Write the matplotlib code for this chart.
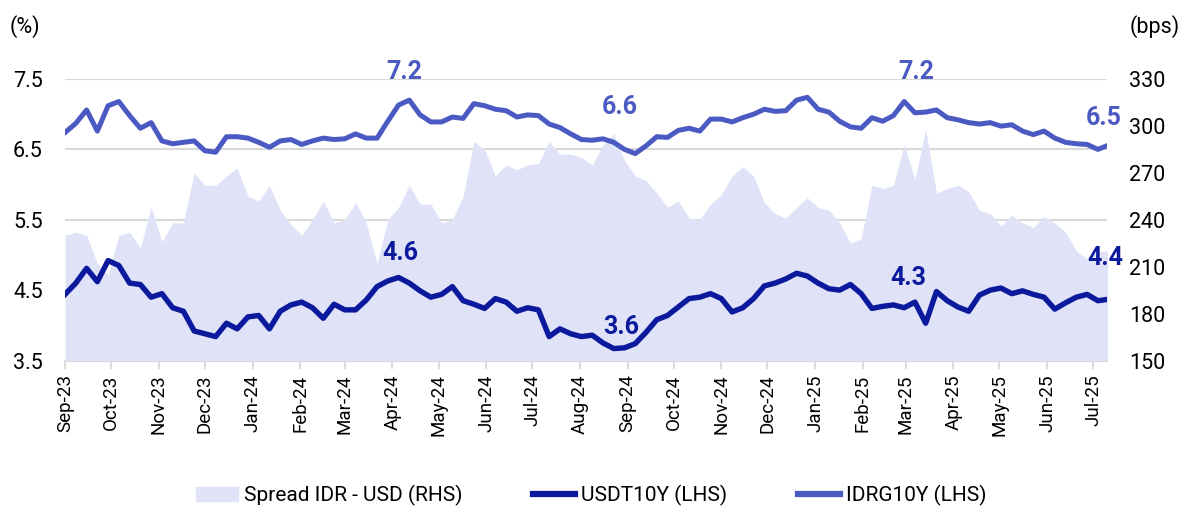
import pandas as pd
import matplotlib
matplotlib.use("Agg")
import matplotlib.pyplot as plt
import matplotlib.dates as mdates
from matplotlib.patches import Patch
from matplotlib.lines import Line2D

plt.rcParams['font.family'] = ['Roboto', 'DejaVu Sans']

# weekly observations, Sep-23 .. Jul-25
dates = pd.date_range('2023-09-01', periods=98, freq='7D')

idrg10y = [6.74, 6.87, 7.06, 6.76, 7.12, 7.18, 6.98, 6.80, 6.88, 6.62,
           6.58, 6.60, 6.62, 6.48, 6.46, 6.68, 6.68, 6.66, 6.60, 6.53,
           6.62, 6.64, 6.57, 6.62, 6.66, 6.64, 6.65, 6.72, 6.66, 6.66,
           6.90, 7.13, 7.20, 6.99, 6.89, 6.89, 6.96, 6.94, 7.15, 7.12,
           7.07, 7.05, 6.96, 6.99, 6.98, 6.86, 6.81, 6.72, 6.64, 6.63,
           6.65, 6.60, 6.50, 6.44, 6.55, 6.68, 6.67, 6.77, 6.80, 6.76,
           6.93, 6.93, 6.89, 6.95, 7.00, 7.07, 7.04, 7.05, 7.20, 7.24,
           7.07, 7.03, 6.90, 6.82, 6.80, 6.95, 6.90, 6.98, 7.18, 7.02,
           7.03, 7.06, 6.95, 6.92, 6.88, 6.86, 6.88, 6.83, 6.85, 6.76,
           6.71, 6.76, 6.66, 6.60, 6.58, 6.57, 6.50, 6.56]

usdt10y = [4.44, 4.60, 4.81, 4.62, 4.92, 4.85, 4.60, 4.58, 4.40, 4.45,
           4.25, 4.20, 3.92, 3.88, 3.84, 4.03, 3.95, 4.12, 4.14, 3.95,
           4.20, 4.29, 4.33, 4.25, 4.10, 4.30, 4.22, 4.22, 4.36, 4.55,
           4.63, 4.68, 4.60, 4.49, 4.40, 4.44, 4.55, 4.35, 4.30, 4.24,
           4.38, 4.33, 4.20, 4.25, 4.22, 3.84, 3.95, 3.88, 3.84, 3.86,
           3.75, 3.67, 3.68, 3.74, 3.90, 4.08, 4.14, 4.26, 4.38, 4.40,
           4.45, 4.38, 4.19, 4.25, 4.38, 4.56, 4.60, 4.66, 4.74, 4.70,
           4.60, 4.52, 4.50, 4.58, 4.45, 4.24, 4.27, 4.29, 4.25, 4.33,
           4.03, 4.48, 4.35, 4.26, 4.20, 4.43, 4.50, 4.53, 4.45, 4.49,
           4.44, 4.40, 4.23, 4.32, 4.40, 4.44, 4.35, 4.37]

spread_bps = [230, 232, 230, 212, 205, 230, 232, 222, 248, 226,
              238, 238, 270, 262, 262, 268, 273, 255, 252, 262,
              246, 237, 230, 240, 252, 238, 240, 251, 238, 212,
              240, 248, 262, 250, 250, 238, 240, 255, 290, 285,
              268, 275, 272, 275, 276, 290, 282, 282, 280, 275,
              288, 295, 278, 268, 265, 257, 248, 252, 241, 240,
              250, 256, 268, 274, 268, 251, 244, 241, 248, 254,
              248, 246, 238, 225, 228, 262, 260, 262, 288, 266,
              298, 257, 260, 262, 258, 246, 244, 236, 243, 238,
              235, 242, 238, 232, 220, 215, 220, 220]

left_ticks = [3.5, 4.5, 5.5, 6.5, 7.5]
right_ticks = [150, 180, 210, 240, 270, 300, 330]

# (text, date, y on LHS, colour key)
labels = [('7.2', '2024-04-09', 7.60, 'idr'), ('6.6', '2024-08-27', 7.10, 'idr'),
          ('7.2', '2025-03-08', 7.60, 'idr'), ('6.5', '2025-07-08', 6.94, 'idr'),
          ('4.6', '2024-04-06', 5.03, 'us'), ('3.6', '2024-08-28', 3.98, 'us'),
          ('4.3', '2025-03-03', 4.67, 'us'), ('4.4', '2025-07-09', 4.95, 'us')]

c_idr = '#4B5AC2'
c_us = '#0B1A9C'
c_fill = '#E0E3F8'

fig = plt.figure(figsize=(11.83, 5.09), dpi=100)
ax = fig.add_axes([0.055, 0.2917, 0.8808, 0.5531])
ax2 = ax.twinx()
ax3 = ax.twinx()

# grid / left axis
ax.set_ylim(3.5, 7.5)
ax.set_yticks(left_ticks)
ax.set_yticklabels([f'{v:.1f}' for v in left_ticks])
ax.grid(axis='y', color='#D9D9D9', lw=1.5)
ax.set_axisbelow(True)
ax.tick_params(axis='y', length=0, pad=16, labelsize=15.5)

# spread area (RHS)
ax2.fill_between(dates, spread_bps, 150, color=c_fill, lw=0)
ax2.set_ylim(150, 330)
ax2.set_yticks(right_ticks)
ax2.tick_params(axis='y', length=0, pad=16, labelsize=15.5)

# yields (LHS scale)
ax3.plot(dates, idrg10y, color=c_idr, lw=3.6, solid_joinstyle='round')
ax3.plot(dates, usdt10y, color=c_us, lw=3.9, solid_joinstyle='round')
ax3.set_ylim(3.5, 7.5)
ax3.set_yticks([])

for t, d, y, k in labels:
    ax3.text(pd.Timestamp(d), y, t, color=c_idr if k == 'idr' else c_us,
             fontsize=18, fontweight='bold', ha='center', va='center')

ax.set_xlim(dates[0], pd.Timestamp('2025-07-10'))
ax.xaxis.set_major_locator(mdates.MonthLocator())
ax.xaxis.set_major_formatter(mdates.DateFormatter('%b-%y'))
ax.tick_params(axis='x', rotation=90, labelsize=13.5, length=6, width=1.3,
               color='#D9D9D9', pad=4)

for a in (ax, ax2, ax3):
    for s in ('top', 'left', 'right', 'bottom'):
        a.spines[s].set_visible(False)
ax.spines['bottom'].set_visible(True)
ax.spines['bottom'].set_color('#D9D9D9')
ax.spines['bottom'].set_linewidth(1.5)

fig.text(0.008, 0.947, '(%)', fontsize=15.5, va='center')
fig.text(0.997, 0.947, '(bps)', fontsize=15.5, va='center', ha='right')

handles = [Patch(color=c_fill), Line2D([], [], color=c_us, lw=4.5),
           Line2D([], [], color=c_idr, lw=4.5)]
names = ['Spread IDR - USD (RHS)', 'USDT10Y (LHS)', 'IDRG10Y (LHS)']
fig.legend(handles, names, loc='center', bbox_to_anchor=(0.5, 0.027), ncol=3,
           frameon=False, fontsize=15, handlelength=2.0, handletextpad=0.3,
           columnspacing=3.4)

fig.savefig('out.png', dpi=100)
